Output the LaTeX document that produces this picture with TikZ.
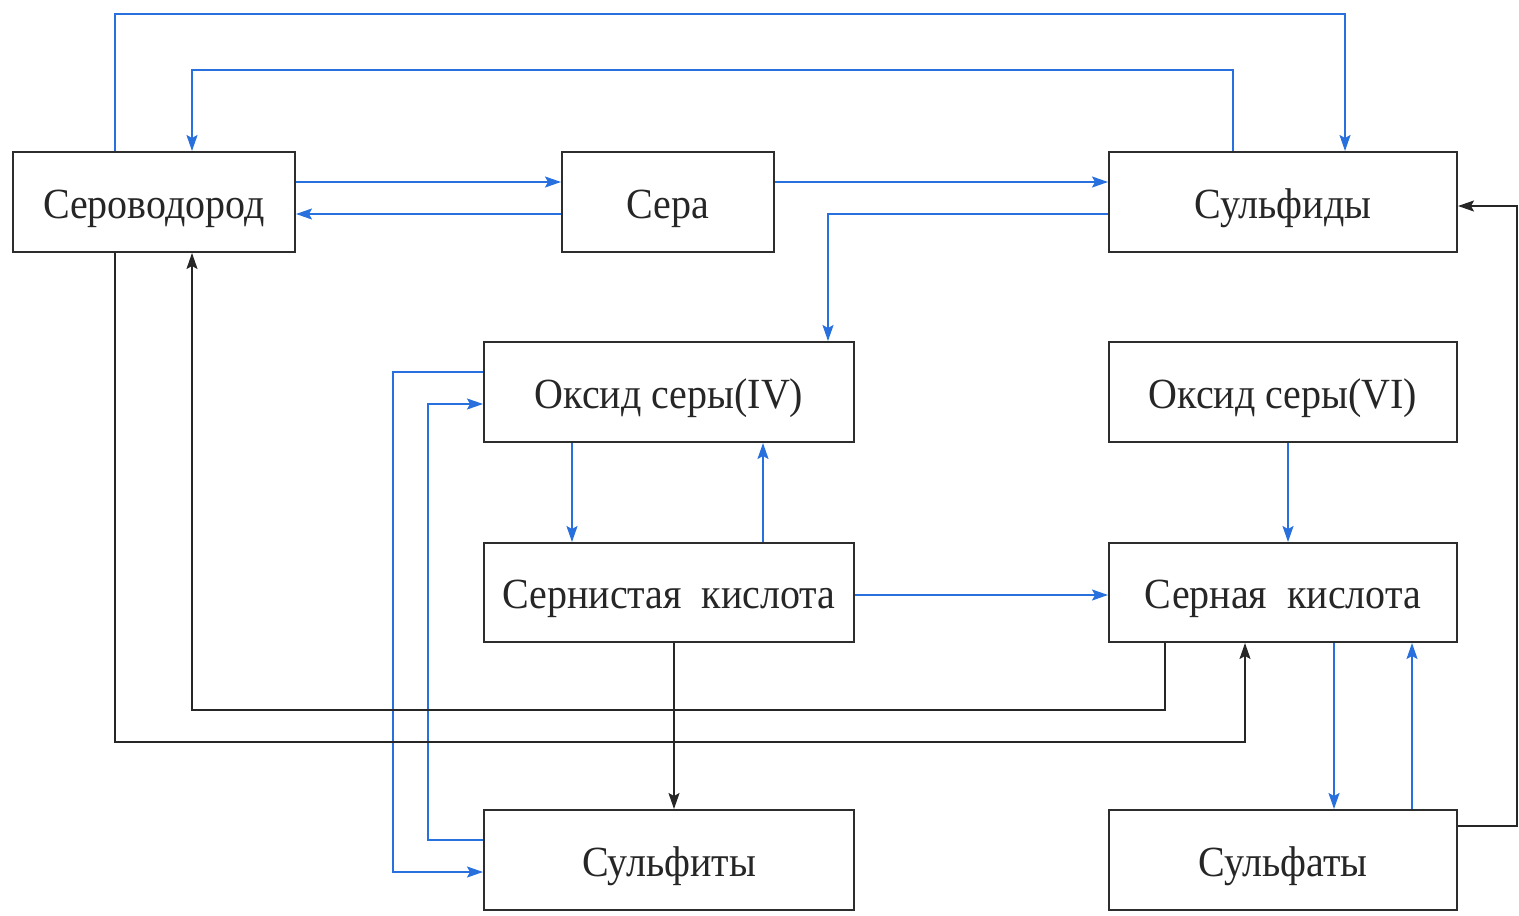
\documentclass[tikz,border=0pt]{standalone}
\usepackage{fontspec}
\setmainfont{Liberation Serif}[FakeStretch=0.93]
\usetikzlibrary{arrows.meta}
\definecolor{bl}{RGB}{40,112,222}
\definecolor{bx}{RGB}{45,45,45}
\tikzset{
  box/.style={draw=bx,line width=1pt,fill=white,rectangle,inner sep=0pt,
    text height=16pt,text depth=0pt,
    font=\fontsize{21.5}{24}\selectfont,text=black!85},
  bluec/.style={draw=bl,line width=0.8pt,-{Stealth[length=8pt,width=5.5pt,inset=1.5pt]}},
  blkc/.style={draw=black!85,line width=0.8pt,-{Stealth[length=8pt,width=5.5pt,inset=1.5pt]}}
}
\begin{document}
\begin{tikzpicture}[x=0.5pt,y=-0.5pt]
\useasboundingbox (0,0) rectangle (1519,915);
\node[box,minimum width=141pt,minimum height=50pt] (h2s) at (154,202) {Сероводород};
\node[box,minimum width=106pt,minimum height=50pt] (s) at (668,202) {Сера};
\node[box,minimum width=174pt,minimum height=50pt] (sulf) at (1283,202) {Сульфиды};
\node[box,minimum width=185pt,minimum height=50pt] (so2) at (669,392) {Оксид серы(IV)};
\node[box,minimum width=174pt,minimum height=50pt] (so3) at (1283,392) {Оксид серы(VI)};
\node[box,minimum width=185pt,minimum height=49.5pt] (h2so3) at (669,592.5) {Сернистая\ \ кислота};
\node[box,minimum width=174pt,minimum height=49.5pt] (h2so4) at (1283,592.5) {Серная\ \ кислота};
\node[box,minimum width=185pt,minimum height=50pt] (sulfit) at (669,860) {Сульфиты};
\node[box,minimum width=174pt,minimum height=50pt] (sulfat) at (1283,860) {Сульфаты};
% blue connectors
\draw[bluec] (h2s.north -| 115,0) -- (115,14) -- (1345,14) -- (sulf.north -| 1345,0);
\draw[bluec] (sulf.north -| 1233,0) -- (1233,70) -- (192,70) -- (h2s.north -| 192,0);
\draw[bluec] (h2s.east |- 0,182) -- (s.west |- 0,182);
\draw[bluec] (s.west |- 0,214) -- (h2s.east |- 0,214);
\draw[bluec] (s.east |- 0,182) -- (sulf.west |- 0,182);
\draw[bluec] (sulf.west |- 0,214) -- (828,214) -- (so2.north -| 828,0);
\draw[bluec] (so2.south -| 572,0) -- (h2so3.north -| 572,0);
\draw[bluec] (h2so3.north -| 763,0) -- (so2.south -| 763,0);
\draw[bluec] (so2.west |- 0,372) -- (393,372) -- (393,872) -- (sulfit.west |- 0,872);
\draw[bluec] (sulfit.west |- 0,840) -- (428,840) -- (428,404) -- (so2.west |- 0,404);
\draw[bluec] (h2so3.east |- 0,595) -- (h2so4.west |- 0,595);
\draw[bluec] (so3.south -| 1288,0) -- (h2so4.north -| 1288,0);
\draw[bluec] (h2so4.south -| 1334,0) -- (sulfat.north -| 1334,0);
\draw[bluec] (sulfat.north -| 1412,0) -- (h2so4.south -| 1412,0);
% black connectors
\draw[blkc] (sulfat.east |- 0,826) -- (1517,826) -- (1517,206) -- (sulf.east |- 0,206);
\draw[blkc] (h2so3.south -| 674,0) -- (sulfit.north -| 674,0);
\draw[blkc] (h2so4.south -| 1165,0) -- (1165,710) -- (192,710) -- (h2s.south -| 192,0);
\draw[blkc] (h2s.south -| 115,0) -- (115,742) -- (1245,742) -- (h2so4.south -| 1245,0);
\end{tikzpicture}
\end{document}
